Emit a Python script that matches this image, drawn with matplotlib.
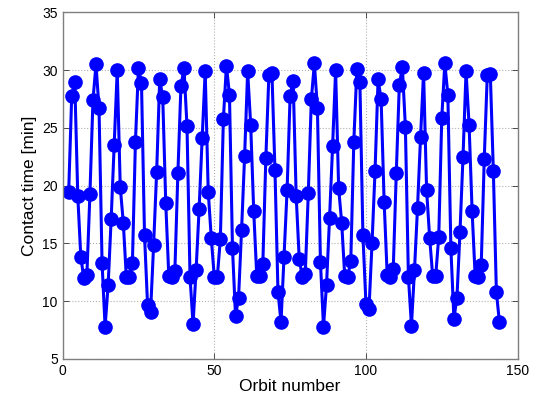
import matplotlib
matplotlib.use("Agg")
import matplotlib.pyplot as plt
import numpy as np

plt.rcParams["font.family"] = ["Liberation Sans", "DejaVu Sans"]

# Contact time per orbit (orbits 2..144)
contact_time = [
    19.5, 27.8, 29.0, 19.1, 13.8, 12.0, 12.3, 19.3, 27.4, 30.5,
    26.7, 13.3, 7.8, 11.4, 17.1, 23.5, 30.0, 19.9, 16.8, 12.1,
    12.1, 13.3, 23.8, 30.2, 28.9, 15.7, 9.7, 9.1, 14.9, 21.2,
    29.2, 27.7, 18.5, 12.2, 12.1, 12.6, 21.1, 28.6, 30.2, 25.2,
    12.1, 8.0, 12.7, 18.0, 24.1, 29.9, 19.5, 15.5, 12.1, 12.1,
    15.4, 25.8, 30.4, 27.9, 14.6, 8.7, 10.3, 16.2, 22.6, 29.9,
    25.3, 17.8, 12.2, 12.2, 13.2, 22.4, 29.6, 29.8, 21.4, 10.8,
    8.2, 13.8, 19.6, 27.8, 29.1, 19.1, 13.7, 12.1, 12.4, 19.4,
    27.5, 30.6, 26.7, 13.4, 7.8, 11.4, 17.2, 23.4, 30.0, 19.8,
    16.8, 12.2, 12.1, 13.5, 23.8, 30.1, 29.0, 15.7, 9.8, 9.3,
    15.0, 21.3, 29.2, 27.5, 18.6, 12.3, 12.1, 12.8, 21.1, 28.7,
    30.3, 25.1, 12.1, 7.9, 12.7, 18.1, 24.2, 29.8, 19.6, 15.5,
    12.2, 12.2, 15.6, 25.9, 30.6, 27.9, 14.6, 8.5, 10.3, 16.0,
    22.5, 29.9, 25.3, 17.8, 12.2, 12.1, 13.1, 22.3, 29.6, 29.7,
    21.3, 10.8, 8.2,
]
orbit = np.arange(2, 2 + len(contact_time))

x_ticks = [0, 50, 100, 150]
y_ticks = [5, 10, 15, 20, 25, 30, 35]

fig = plt.figure(figsize=(5.46, 3.98), dpi=100)
ax = fig.add_axes([0.1147, 0.098, 0.8333, 0.8706])

ax.plot(orbit, contact_time, "-o", color="#0000ff", linewidth=2.2,
        markersize=9.5, markerfacecolor="#0000ff", markeredgecolor="#0000ff")

ax.set_xlim(0, 150)
ax.set_ylim(5, 35)
ax.set_xticks(x_ticks)
ax.set_yticks(y_ticks)
ax.tick_params(direction="in", labelsize=10, colors="#333333",
               length=4, width=0.6, top=True, right=True)
ax.tick_params(labelcolor="black")
ax.grid(True, linestyle=":", color="#b0b0b0", linewidth=0.8)
for s in ax.spines.values():
    s.set_color("#7f7f7f")
    s.set_linewidth(1.0)

ax.set_xlabel("Orbit number", fontsize=12.5, labelpad=1)
ax.set_ylabel("Contact time [min]", fontsize=12.5, labelpad=4)

fig.savefig("out.png", dpi=100)
